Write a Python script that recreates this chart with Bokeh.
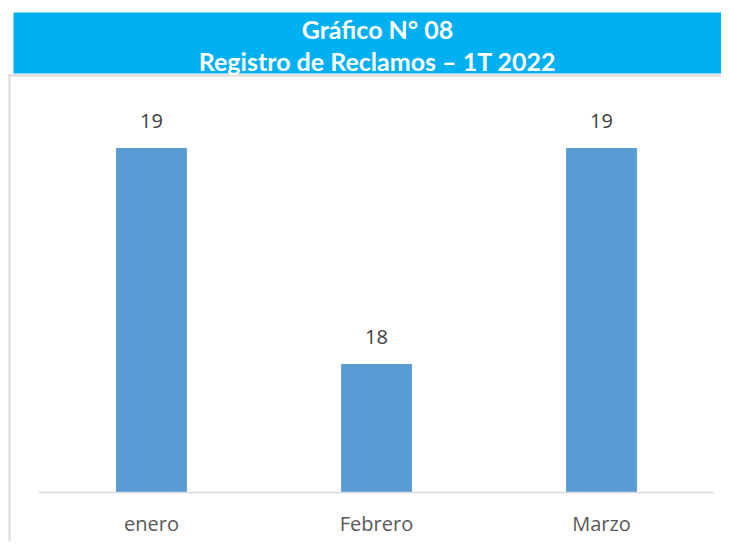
from bokeh.plotting import figure
from bokeh.models import ColumnDataSource, Range1d
from bokeh.core.properties import value
from bokeh.embed import file_html
from bokeh.resources import INLINE

# Data
months = ["enero", "Febrero", "Marzo"]
reclamos = [19, 18, 19]
title_lines = ["Gráfico N° 08", "Registro de Reclamos – 1T 2022"]
axis_min = 17.4074

BAR = "#5B9BD5"
BAND = "#00B0F0"
GRID = "#D9D9D9"

W, H = 721, 541
PX_X = 225.0   # pixels per category
PX_Y = 216.0   # pixels per unit
X_START = -151.0 / PX_X
Y_END = axis_min + 492.0 / PX_Y


def fx(px):
    return X_START + px / PX_X


def fy(py):
    return Y_END - py / PX_Y


idx = list(range(len(months)))
src = ColumnDataSource(dict(i=idx, m=months, v=reclamos, lab=[str(v) for v in reclamos],
                            base=[axis_min] * len(months)))

p = figure(width=W, height=H, x_range=Range1d(fx(0), fx(W)), y_range=Range1d(fy(H), fy(0)),
           output_backend="svg", toolbar_location=None, min_border=0)
p.axis.visible = False
p.grid.visible = False
p.outline_line_color = None

# chart-area border (left and top edges)
p.segment(x0=[fx(9), fx(8)], y0=[fy(74), fy(75)], x1=[fx(9), fx(W)], y1=[fy(H), fy(75)],
          line_color=GRID, line_width=2)
# title band
p.quad(left=fx(13), right=fx(W), top=fy(12), bottom=fy(73), fill_color=BAND, line_color=None)
p.text(x=[fx(377), fx(377)], y=[fy(28), fy(60)], text=title_lines,
       text_font=value("Lato"), text_font_style="bold", text_font_size="25px",
       text_color="white", text_align="center", text_baseline="middle")

# bars
p.vbar(x="i", top="v", bottom="base", width=0.31, color=BAR, source=src)
p.text(x="i", y="v", text="lab", source=src, y_offset=-27,
       text_font=value("Open Sans"), text_font_size="20px", text_color="#404040",
       text_align="center", text_baseline="middle")

# category axis
p.segment(x0=[-0.5], y0=[axis_min], x1=[len(months) - 0.5], y1=[axis_min],
          line_color=GRID, line_width=1.5)
p.text(x="i", y="base", text="m", source=src, y_offset=31,
       text_font=value("Open Sans"), text_font_size="20px", text_color="#595959",
       text_align="center", text_baseline="middle")

open("out.html", "w").write(file_html(p, INLINE))
